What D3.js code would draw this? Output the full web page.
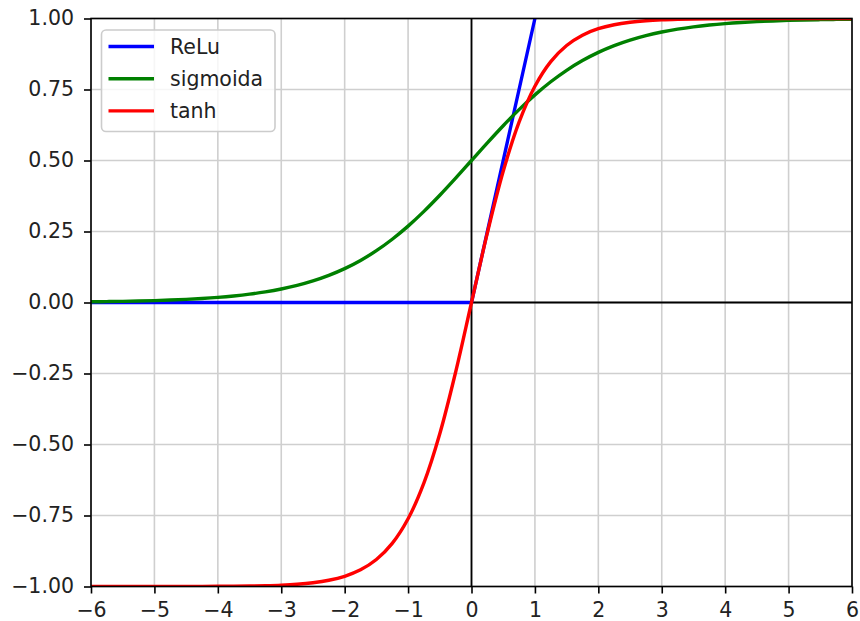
<!DOCTYPE html>
<html>
<head>
<meta charset="utf-8">
<script src="https://cdn.jsdelivr.net/npm/d3@7"></script>
<style>
  html, body { margin: 0; padding: 0; background: #fff; }
  svg { display: block; font-family: "DejaVu Sans", sans-serif; }
</style>
</head>
<body>
<svg id="chart" width="860" height="621"></svg>
<script>
// Sample positions shared by the smooth curves
const xs = [
  -6, -5.75, -5.5, -5.25, -5, -4.75, -4.5, -4.25, -4, -3.75, -3.5, -3.25,
  -3, -2.75, -2.5, -2.25, -2, -1.75, -1.5, -1.25, -1, -0.75, -0.5, -0.25,
  0, 0.25, 0.5, 0.75, 1, 1.25, 1.5, 1.75, 2, 2.25, 2.5, 2.75,
  3, 3.25, 3.5, 3.75, 4, 4.25, 4.5, 4.75, 5, 5.25, 5.5, 5.75, 6
];
const sigmoidValues = [
  0.0025, 0.0032, 0.0041, 0.0052, 0.0067, 0.0086, 0.0110, 0.0141, 0.0180, 0.0230, 0.0293, 0.0373,
  0.0474, 0.0601, 0.0759, 0.0954, 0.1192, 0.1481, 0.1824, 0.2227, 0.2689, 0.3208, 0.3775, 0.4378,
  0.5000, 0.5622, 0.6225, 0.6792, 0.7311, 0.7773, 0.8176, 0.8519, 0.8808, 0.9046, 0.9241, 0.9399,
  0.9526, 0.9627, 0.9707, 0.9770, 0.9820, 0.9859, 0.9890, 0.9914, 0.9933, 0.9948, 0.9959, 0.9968, 0.9975
];
const tanhValues = [
  -1.0000, -1.0000, -1.0000, -0.9999, -0.9999, -0.9999, -0.9998, -0.9996, -0.9993, -0.9989, -0.9982, -0.9970,
  -0.9951, -0.9919, -0.9866, -0.9780, -0.9640, -0.9414, -0.9051, -0.8483, -0.7616, -0.6351, -0.4621, -0.2449,
  0.0000, 0.2449, 0.4621, 0.6351, 0.7616, 0.8483, 0.9051, 0.9414, 0.9640, 0.9780, 0.9866, 0.9919,
  0.9951, 0.9970, 0.9982, 0.9989, 0.9993, 0.9996, 0.9998, 0.9999, 0.9999, 0.9999, 1.0000, 1.0000, 1.0000
];
// ReLu is piecewise linear: its corner points
const reluX = [-6, 0, 1];
const reluValues = [0, 0, 1];

const seriesNames = ["ReLu", "sigmoida", "tanh"];
const seriesColors = ["#0000ff", "#008000", "#ff0000"];

const xTicks = [-6, -5, -4, -3, -2, -1, 0, 1, 2, 3, 4, 5, 6];
const yTicks = [-1, -0.75, -0.5, -0.25, 0, 0.25, 0.5, 0.75, 1];

const svg = d3.select("#chart");
const plot = { left: 91, right: 852, top: 18.5, bottom: 586.5 };
const fontSize = 20.5;

const x = d3.scaleLinear().domain([-6, 6]).range([plot.left, plot.right]);
const y = d3.scaleLinear().domain([-1, 1]).range([plot.bottom, plot.top]);

svg.append("defs").append("clipPath").attr("id", "plot-clip")
  .append("rect")
  .attr("x", plot.left).attr("y", plot.top)
  .attr("width", plot.right - plot.left).attr("height", plot.bottom - plot.top);

// Grid
const grid = svg.append("g").attr("class", "grid");
grid.selectAll("line.vx").data(xTicks).join("line")
  .attr("x1", d => x(d)).attr("x2", d => x(d))
  .attr("y1", plot.top).attr("y2", plot.bottom)
  .attr("stroke", "#cfcfcf").attr("stroke-width", 1.6);
grid.selectAll("line.hy").data(yTicks).join("line")
  .attr("x1", plot.left).attr("x2", plot.right)
  .attr("y1", d => y(d)).attr("y2", d => y(d))
  .attr("stroke", "#cfcfcf").attr("stroke-width", 1.6);

// Zero lines
svg.append("line")
  .attr("x1", plot.left).attr("x2", plot.right)
  .attr("y1", y(0)).attr("y2", y(0))
  .attr("stroke", "#000").attr("stroke-width", 1.8);
svg.append("line")
  .attr("x1", x(0)).attr("x2", x(0))
  .attr("y1", plot.top).attr("y2", plot.bottom)
  .attr("stroke", "#000").attr("stroke-width", 1.8);

// Curves
const line = d3.line().x(d => x(d[0])).y(d => y(d[1]));
const smooth = d3.line().x(d => x(d[0])).y(d => y(d[1])).curve(d3.curveCatmullRom.alpha(0.5));

const curves = svg.append("g").attr("clip-path", "url(#plot-clip)");
curves.append("path")
  .attr("d", line(reluX.map((v, i) => [v, reluValues[i]])))
  .attr("fill", "none").attr("stroke", seriesColors[0]).attr("stroke-width", 3.4);
curves.append("path")
  .attr("d", smooth(xs.map((v, i) => [v, sigmoidValues[i]])))
  .attr("fill", "none").attr("stroke", seriesColors[1]).attr("stroke-width", 3.4);
curves.append("path")
  .attr("d", smooth(xs.map((v, i) => [v, tanhValues[i]])))
  .attr("fill", "none").attr("stroke", seriesColors[2]).attr("stroke-width", 3.4);

// Axes
const fmtY = d => (d < 0 ? "\u2212" : "") + Math.abs(d).toFixed(2);
const fmtX = d => (d < 0 ? "\u2212" : "") + Math.abs(d);

const xAxis = svg.append("g")
  .attr("transform", `translate(0,${plot.bottom})`)
  .call(d3.axisBottom(x).tickValues(xTicks).tickFormat(fmtX).tickSize(7).tickPadding(9));
const yAxis = svg.append("g")
  .attr("transform", `translate(${plot.left},0)`)
  .call(d3.axisLeft(y).tickValues(yTicks).tickFormat(fmtY).tickSize(7).tickPadding(10));

[xAxis, yAxis].forEach(g => {
  g.select(".domain").remove();
  g.selectAll(".tick line").attr("stroke", "#000").attr("stroke-width", 1.6);
  g.selectAll(".tick text").attr("fill", "#222").attr("font-size", fontSize)
    .attr("font-family", "DejaVu Sans");
});
yAxis.selectAll(".tick text").attr("dy", "0.27em");

// Frame
svg.append("rect")
  .attr("x", plot.left).attr("y", plot.top)
  .attr("width", plot.right - plot.left).attr("height", plot.bottom - plot.top)
  .attr("fill", "none").attr("stroke", "#000").attr("stroke-width", 1.6);

// Legend
const legend = svg.append("g").attr("transform", "translate(101.5,30)");
legend.append("rect")
  .attr("width", 173.5).attr("height", 101.5).attr("rx", 4.5)
  .attr("fill", "#fff").attr("fill-opacity", 0.8)
  .attr("stroke", "#cccccc").attr("stroke-width", 1.6);
seriesNames.forEach((name, i) => {
  const row = legend.append("g").attr("transform", `translate(0,${16.5 + i * 32.2})`);
  row.append("line").attr("x1", 7).attr("x2", 52.5)
    .attr("stroke", seriesColors[i]).attr("stroke-width", 3.4);
  row.append("text").attr("x", 68.5).attr("dy", "0.35em")
    .attr("font-size", fontSize).attr("fill", "#222").text(name);
});
</script>
</body>
</html>
